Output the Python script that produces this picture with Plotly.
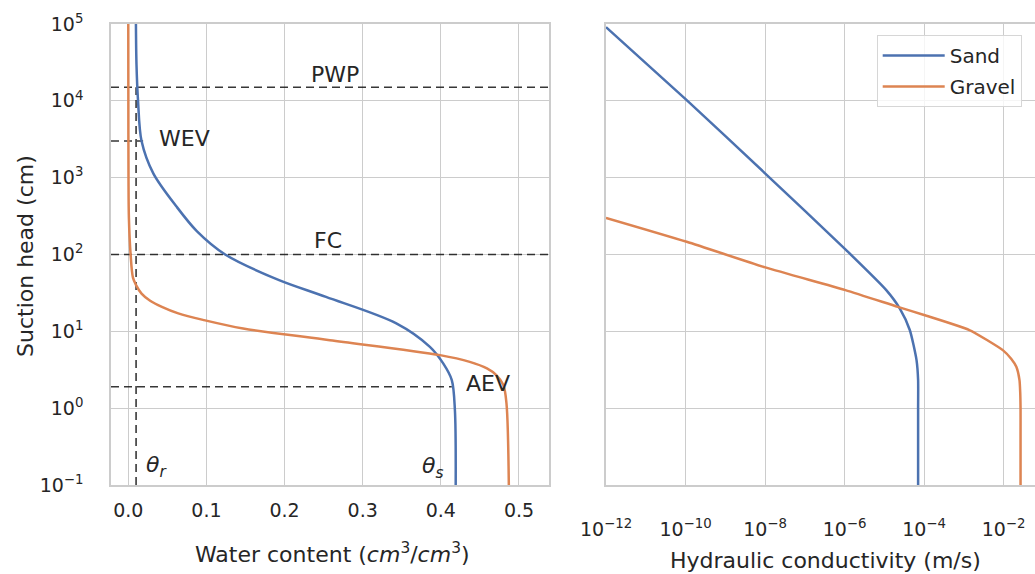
import plotly.graph_objects as go

# Water retention: suction head (cm) and volumetric water content (cm3/cm3)
sand_h = [1e5, 3e4, 1e4, 3000, 1138, 417, 200, 100, 46.4, 28.1, 12.7, 6.28, 3.82, 2.32, 0.94, 0.1]
sand_theta = [0.0098, 0.0105, 0.0125, 0.017, 0.032, 0.062, 0.088, 0.124, 0.193, 0.253, 0.343,
              0.386, 0.403, 0.414, 0.418, 0.419]
gravel_h = [1e5, 1e4, 1000, 300, 100, 50, 40, 31, 25, 20.8, 17.1, 14, 10.9, 7.67, 4.9, 4.0,
            3.29, 2.69, 2.0, 1.15, 0.1]
gravel_theta = [0.0, 0.0001, 0.0003, 0.0008, 0.003, 0.006, 0.010, 0.017, 0.028, 0.043, 0.064,
                0.097, 0.147, 0.258, 0.399, 0.437, 0.459, 0.471, 0.480, 0.484, 0.487]

# Hydraulic conductivity (m/s) against suction head (cm)
sand_k_h = [9.1e4, 1.02e4, 1140, 114, 34.4, 19.9, 10.4, 4.22, 2.32, 1.0, 0.1]
sand_k = [1e-12, 1.07e-10, 1e-8, 1.1e-6, 1.12e-5, 2.44e-5, 4.37e-5, 6.46e-5, 7.08e-5, 7.08e-5, 7.08e-5]
gravel_k_h = [300, 146.6, 67.9, 34.4, 20.8, 16.3, 10.4, 7.6, 5.69, 4.4, 3.45, 2.32, 1.6, 1.0, 0.5, 0.1]
gravel_k = [1e-12, 1.07e-10, 1.02e-8, 1.05e-6, 2.19e-5, 1e-4, 1.38e-3, 4.0e-3, 9.55e-3, 1.55e-2,
            2.09e-2, 2.51e-2, 2.62e-2, 2.67e-2, 2.67e-2, 2.67e-2]

# Characteristic heads (cm) and residual water content
PWP = 15000
WEV = 3000
FC = 100
AEV = 1.9
theta_r = 0.01
wev_theta = 0.019
aev_theta = 0.414

# Axis ticks
theta_ticks = [0.0, 0.1, 0.2, 0.3, 0.4, 0.5]
theta_ticktext = ["0.0", "0.1", "0.2", "0.3", "0.4", "0.5"]
head_ticks = [0.1, 1, 10, 100, 1000, 10000, 100000]
head_ticktext = ["10<sup>−1</sup>", "10<sup>0</sup>", "10<sup>1</sup>", "10<sup>2</sup>",
                 "10<sup>3</sup>", "10<sup>4</sup>", "10<sup>5</sup>"]
k_ticks = [1e-12, 1e-10, 1e-8, 1e-6, 1e-4, 1e-2]
k_ticktext = ["10<sup>−12</sup>", "10<sup>−10</sup>", "10<sup>−8</sup>", "10<sup>−6</sup>",
              "10<sup>−4</sup>", "10<sup>−2</sup>"]

SAND = "#4C72B0"
GRAVEL = "#DD8452"
GRID = "#cccccc"
TXT = "#262626"
FONT = "DejaVu Sans"
DASH = "rgba(20,20,20,0.85)"

W, H = 1035, 574
theta_range = [-0.0221, 0.5384]

fig = go.Figure()

def dashed(x, y, xa="x", ya="y"):
    fig.add_trace(go.Scatter(x=x, y=y, mode="lines", xaxis=xa, yaxis=ya, showlegend=False,
                             line=dict(color=DASH, width=1.6, dash="8px,5px"), hoverinfo="skip"))

dashed(theta_range, [PWP, PWP])
dashed(theta_range, [FC, FC])
dashed([theta_range[0], wev_theta], [WEV, WEV])
dashed([theta_range[0], aev_theta], [AEV, AEV])
dashed([theta_r, theta_r], [0.1, PWP])

curve = dict(width=2.5, shape="spline", smoothing=0.9)
kcurve = dict(width=2.5, shape="spline", smoothing=0.6)
fig.add_trace(go.Scatter(x=sand_theta, y=sand_h, mode="lines", name="Sand", showlegend=False,
                         line=dict(color=SAND, **curve)))
fig.add_trace(go.Scatter(x=gravel_theta, y=gravel_h, mode="lines", name="Gravel", showlegend=False,
                         line=dict(color=GRAVEL, **curve)))

fig.add_trace(go.Scatter(x=sand_k, y=sand_k_h, mode="lines", name="Sand", xaxis="x2", yaxis="y2",
                         legendgroup="s", line=dict(color=SAND, **kcurve)))
fig.add_trace(go.Scatter(x=gravel_k, y=gravel_k_h, mode="lines", name="Gravel", xaxis="x2", yaxis="y2",
                         legendgroup="g", line=dict(color=GRAVEL, **kcurve)))

axis_common = dict(showline=True, linecolor=GRID, linewidth=1.5, mirror=True, showgrid=True,
                   gridcolor=GRID, gridwidth=1.2, zeroline=False, ticks="",
                   tickfont=dict(family=FONT, size=19, color=TXT), automargin=False)

y_top, y_bot = 24, 485
ydom = [1 - y_bot / H, 1 - y_top / H]

fig.update_layout(
    width=W, height=H,
    margin=dict(l=0, r=0, t=0, b=0, pad=0),
    paper_bgcolor="white", plot_bgcolor="white",
    xaxis=dict(domain=[111 / W, 549 / W], range=theta_range, tickvals=theta_ticks,
               ticktext=theta_ticktext, anchor="y", ticklabelstandoff=7, **axis_common),
    yaxis=dict(domain=ydom, type="log", range=[-1, 5], tickvals=head_ticks, ticktext=head_ticktext,
               anchor="x", ticklabelstandoff=22, **axis_common),
    xaxis2=dict(domain=[606 / W, 1.0], type="log", range=[-12, -1.21], tickvals=k_ticks,
                ticktext=k_ticktext, anchor="y2", ticklabelstandoff=26, **axis_common),
    yaxis2=dict(domain=ydom, type="log", range=[-1, 5], matches="y", tickvals=head_ticks,
                showticklabels=False, anchor="x2", **axis_common),
    legend=dict(x=876.7 / W, y=1 - 35 / H, xanchor="left", yanchor="top",
                bgcolor="rgba(255,255,255,0.8)", bordercolor="#d6d6d6", borderwidth=1,
                font=dict(family=FONT, size=20, color=TXT), tracegroupgap=2, itemwidth=62),
    font=dict(family=FONT, color=TXT),
)

def label(text, x, y, xref="x", yref="y", size=22, **kw):
    fig.add_annotation(text=text, x=x, y=y, xref=xref, yref=yref, showarrow=False,
                       font=dict(family=FONT, size=size, color=TXT), **kw)

# Axis titles
label("Suction head (cm)", 25 / W, 1 - 256 / H, "paper", "paper", textangle=-90,
      xanchor="center", yanchor="middle")
label("Water content (<i>cm</i><sup>3</sup>/<i>cm</i><sup>3</sup>)", 332.5 / W, 1 - 553 / H,
      "paper", "paper", xanchor="center", yanchor="middle")
label("Hydraulic conductivity (m/s)", 825 / W, 1 - 560 / H, "paper", "paper",
      xanchor="center", yanchor="middle")

# Characteristic point labels (annotation y on a log axis is given as log10)
label("PWP", 0.2316, 4.34, xanchor="left", yanchor="middle")
label("FC", 0.2347, 2.184, xanchor="left", yanchor="middle")
label("WEV", 0.0363, 3.512, xanchor="left", yanchor="middle")
label("AEV", 0.430, 0.322, xanchor="left", yanchor="middle")
label("<i>θ<sub>r</sub></i>", 0.0201, -0.755, xanchor="left", yanchor="middle")
label("<i>θ<sub>s</sub></i>", 0.3733, -0.768, xanchor="left", yanchor="middle")

fig.write_html("out.html")
